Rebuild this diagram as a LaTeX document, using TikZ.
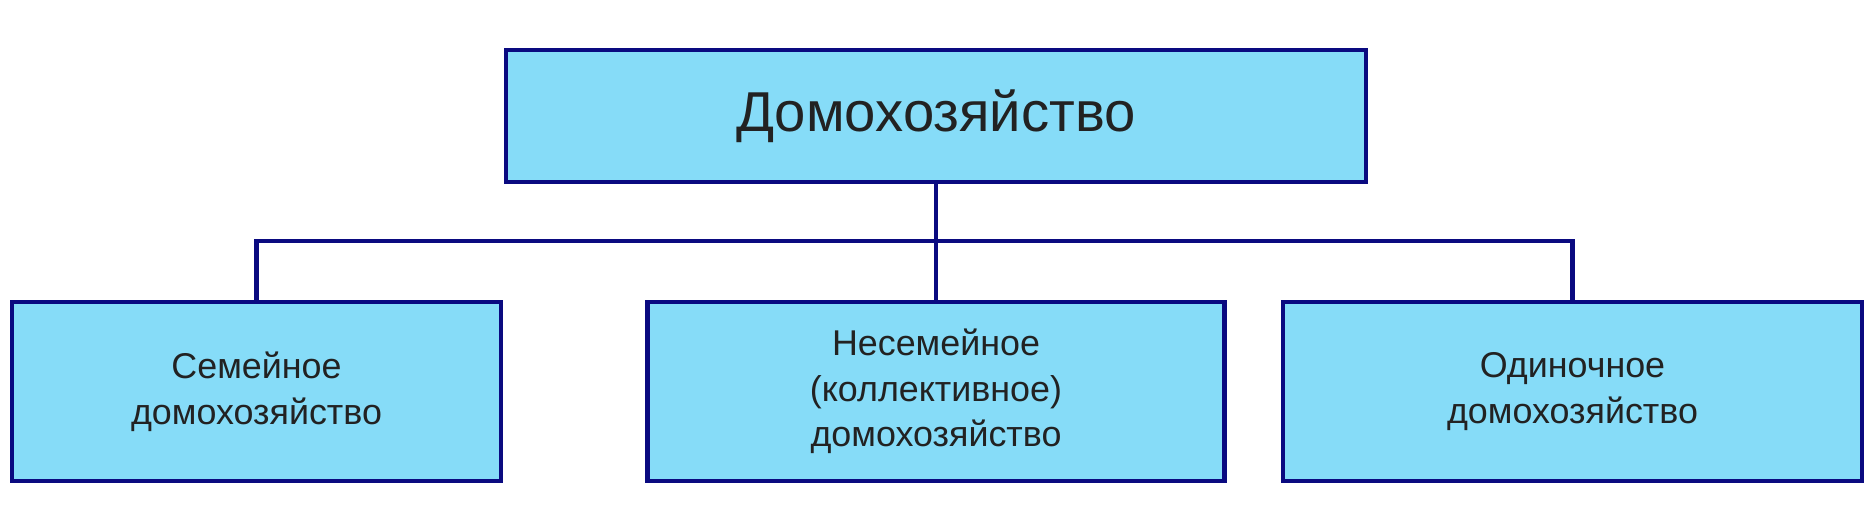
\documentclass[tikz,border=0pt]{standalone}
\usepackage{fontspec}
\setmainfont{Liberation Sans}
\definecolor{boxfill}{HTML}{86DCF8}
\definecolor{boxline}{HTML}{0A0A80}
\definecolor{boxtext}{HTML}{222222}
\begin{document}
\begin{tikzpicture}
	\useasboundingbox (0,0) rectangle (18.75,5.29);
	\begin{scope}[every node/.style={rectangle,draw=boxline,fill=boxfill,line width=1.2pt,text=boxtext,align=center,inner sep=0pt}]
	\node[minimum width=8.6cm,minimum height=1.32cm,font=\fontsize{16}{19}\selectfont] (top) at (9.36, 4.13) {Домохозяйство};

	\node[minimum width=4.89cm,minimum height=1.79cm,font=\fontsize{10.2}{13}\selectfont] (2-1) at (2.565, 1.375) {Семейное\\домохозяйство};
	\node[minimum width=5.77cm,minimum height=1.79cm,font=\fontsize{10.2}{13}\selectfont] (2-2) at (9.36, 1.375) {Несемейное\\(коллективное)\\домохозяйство};
	\node[minimum width=5.79cm,minimum height=1.79cm,font=\fontsize{10.2}{13}\selectfont] (2-3) at (15.725, 1.375) {Одиночное\\домохозяйство};
	\end{scope}

	\coordinate (fork) at (9.36, 2.88);

	\draw [boxline,line width=1.2pt] (top.south) -- (2-2.north);
	\draw [boxline,line width=1.2pt] (2-1.north) |- (fork);
	\draw [boxline,line width=1.2pt] (2-3.north) |- (fork);
\end{tikzpicture}
\end{document}
